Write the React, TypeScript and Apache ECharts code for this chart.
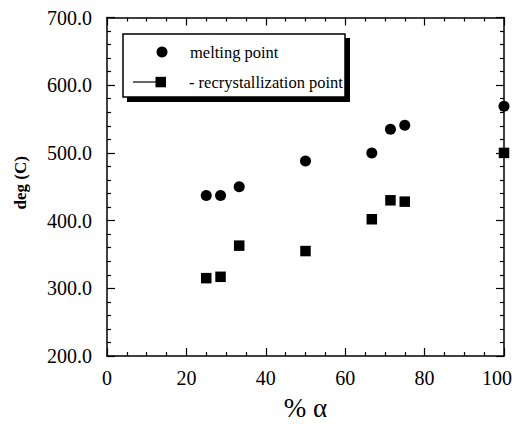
import React, { useEffect, useRef } from 'react';
import * as echarts from 'echarts';

// % alpha composition
const alphaPercent = [25, 28.6, 33.3, 50, 66.7, 71.4, 75, 100];
// melting point (deg C)
const meltingPoint = [437, 437, 450, 488, 500, 535, 541, 569];
// recrystallization point (deg C)
const recrystPoint = [315, 317, 363, 355, 402, 430, 428, 500];

const xMin = 0, xMax = 100, xStep = 20;
const yMin = 200, yMax = 700, yStep = 100;

const legendLabels = ['melting point', '- recrystallization point'];

const FONT = "'Liberation Serif', 'Times New Roman', serif";

export default function App() {
  const ref = useRef<HTMLDivElement>(null);
  useEffect(() => {
    if (!ref.current) return;
    const chart = echarts.init(ref.current, null, { renderer: 'svg', width: 522, height: 426 });
    const axisLine = { show: true, onZero: false, lineStyle: { color: '#000', width: 1.5 } };
    const xBase = {
      type: 'value' as const,
      min: xMin,
      max: xMax,
      interval: xStep,
      axisLine,
      axisTick: { show: true, inside: true, length: 8, lineStyle: { color: '#000', width: 1.2 } },
      minorTick: { show: true, splitNumber: 4, length: 4, lineStyle: { color: '#000', width: 1.2 } },
      splitLine: { show: false },
    };
    const yBase = {
      type: 'value' as const,
      min: yMin,
      max: yMax,
      interval: yStep,
      axisLine,
      axisTick: { show: true, inside: true, length: 8, lineStyle: { color: '#000', width: 1.2 } },
      minorTick: { show: true, splitNumber: 5, length: 4, lineStyle: { color: '#000', width: 1.2 } },
      splitLine: { show: false },
    };
    const data1 = alphaPercent.map((x, i) => [x, meltingPoint[i]]);
    const data2 = alphaPercent.map((x, i) => [x, recrystPoint[i]]);
    chart.setOption({
      animation: false,
      backgroundColor: '#fff',
      textStyle: { fontFamily: FONT, color: '#000' },
      grid: { left: 107, right: 18, top: 17.5, bottom: 63, containLabel: false },
      xAxis: [
        {
          ...xBase,
          position: 'bottom',
          name: '% α',
          nameLocation: 'middle',
          nameGap: 38,
          nameTextStyle: { fontFamily: FONT, fontSize: 27, color: '#000' },
          axisLabel: {
            fontFamily: FONT,
            fontSize: 20,
            color: '#000',
            margin: 12,
            formatter: (v: number) => (v === xMax ? `{last|${v}}` : `${v}`),
            rich: { last: { fontFamily: FONT, fontSize: 20, color: '#000', padding: [0, 14, 0, 0] } },
          },
        },
        { ...xBase, position: 'top', axisLabel: { show: false } },
      ],
      yAxis: [
        {
          ...yBase,
          position: 'left',
          name: 'deg (C)',
          nameLocation: 'middle',
          nameGap: 78,
          nameTextStyle: { fontFamily: FONT, fontSize: 17, fontWeight: 'bold', color: '#000', padding: [0, 0, 0, 8] },
          axisLabel: {
            fontFamily: FONT,
            fontSize: 20,
            color: '#000',
            margin: 15,
            formatter: (v: number) => v.toFixed(1),
          },
        },
        { ...yBase, position: 'right', axisLabel: { show: false } },
      ],
      series: [
        {
          name: legendLabels[0],
          type: 'scatter',
          symbol: 'circle',
          symbolSize: 11,
          itemStyle: { color: '#000', opacity: 1 },
          data: data1,
        },
        {
          name: legendLabels[1],
          type: 'scatter',
          symbol: 'rect',
          symbolSize: 10.5,
          itemStyle: { color: '#000', opacity: 1 },
          data: data2,
        },
      ],
      graphic: [
        { type: 'rect', shape: { x: 127, y: 38, width: 223, height: 64 }, style: { fill: '#000' }, z: 10 },
        { type: 'rect', shape: { x: 123, y: 34, width: 222, height: 63 }, style: { fill: '#fff', stroke: '#000', lineWidth: 1.5 }, z: 11 },
        { type: 'circle', shape: { cx: 162, cy: 52, r: 5.5 }, style: { fill: '#000' }, z: 12 },
        {
          type: 'text', x: 190, y: 52, z: 12,
          style: { text: legendLabels[0], font: `16.5px ${FONT}`, fill: '#000', verticalAlign: 'middle', align: 'left' },
        },
        { type: 'line', shape: { x1: 133, y1: 82, x2: 160, y2: 82 }, style: { stroke: '#000', lineWidth: 1.2 }, z: 12 },
        { type: 'rect', shape: { x: 155.5, y: 76.8, width: 10.5, height: 10.5 }, style: { fill: '#000' }, z: 12 },
        {
          type: 'text', x: 189, y: 82, z: 12,
          style: { text: legendLabels[1], font: `16.5px ${FONT}`, fill: '#000', verticalAlign: 'middle', align: 'left' },
        },
      ],
    });
    return () => chart.dispose();
  }, []);
  return (
    <div
      ref={ref}
      style={{ position: 'absolute', left: 0, top: 0, width: 522, height: 426, overflow: 'hidden' }}
    />
  );
}
